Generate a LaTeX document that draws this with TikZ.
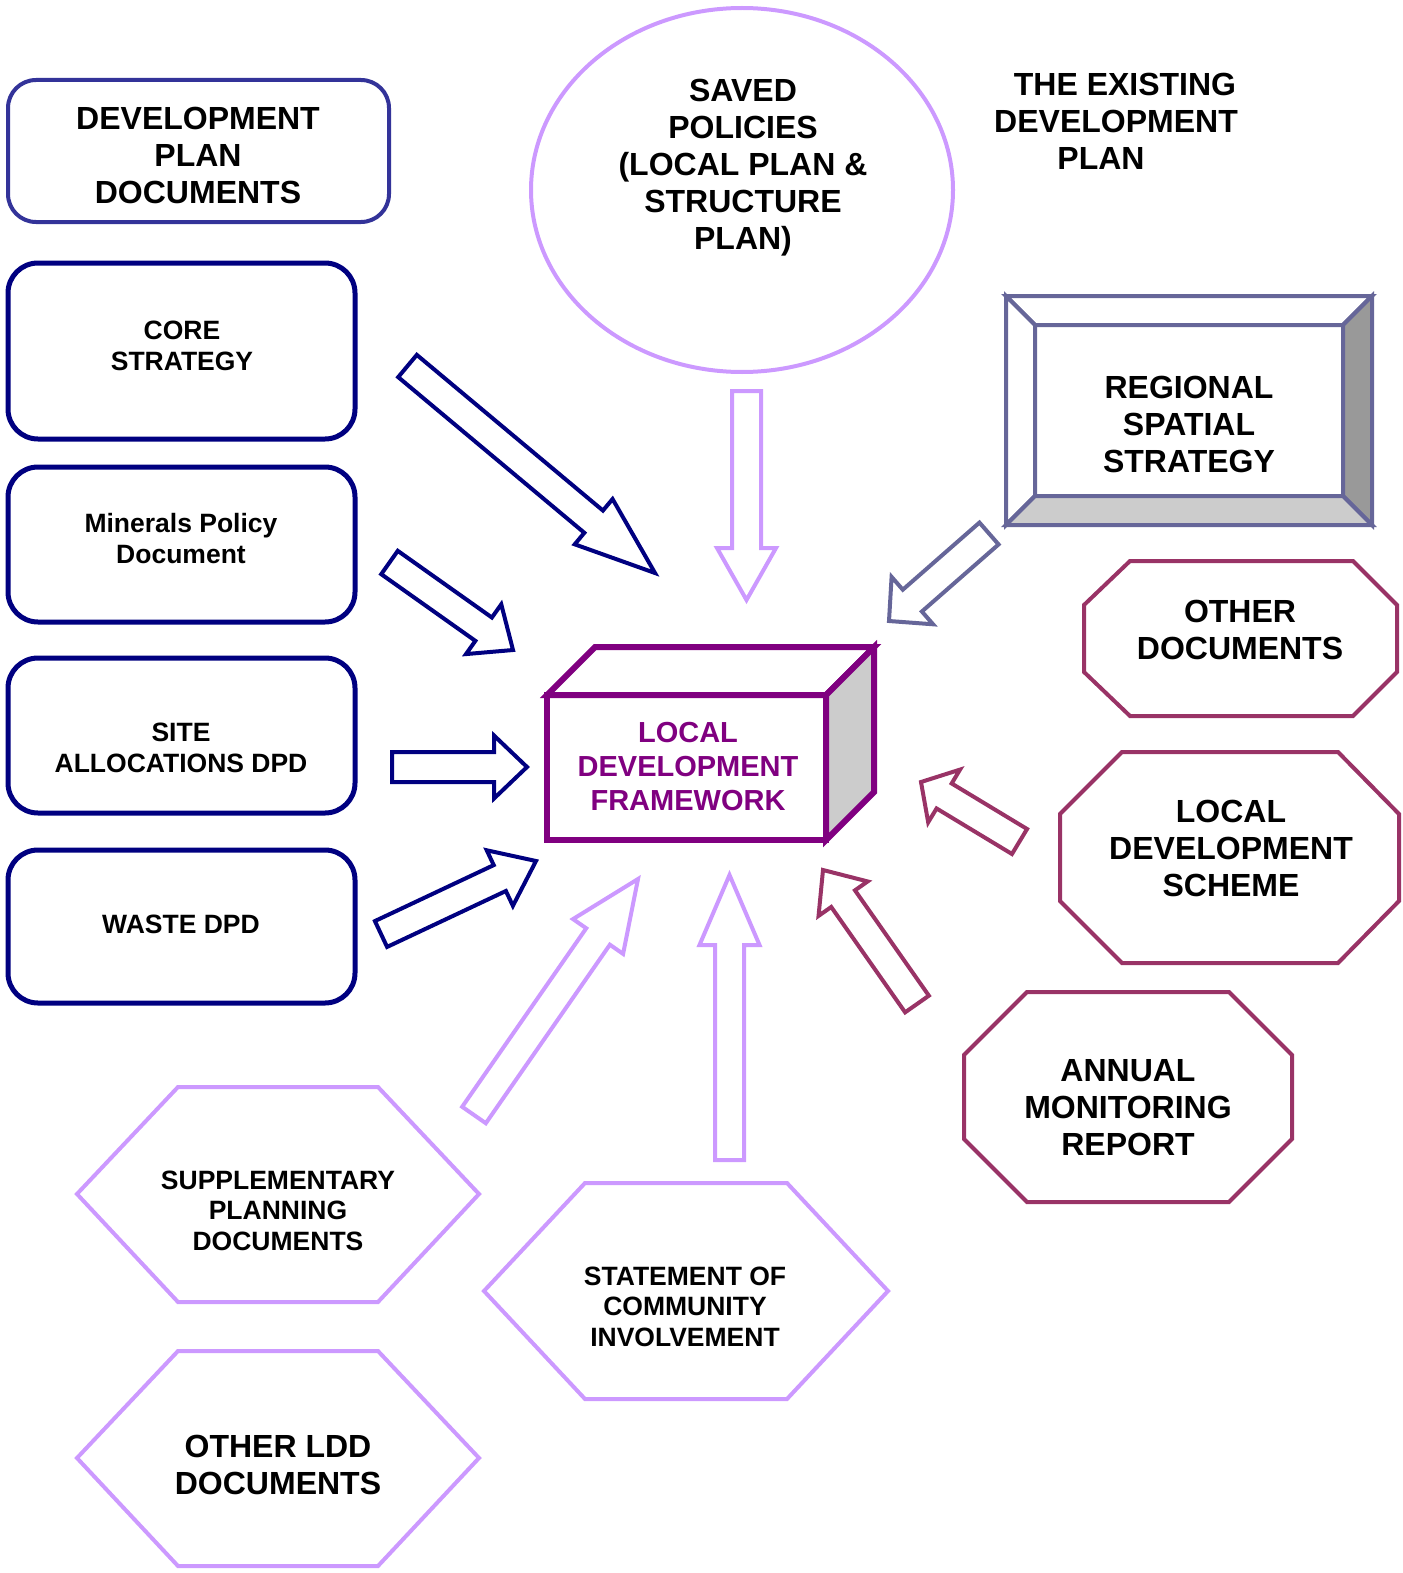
\documentclass[tikz,border=0pt]{standalone}
\usepackage{fontspec}
\setmainfont{Liberation Sans}
\usetikzlibrary{calc}

\definecolor{navyline}{HTML}{000080}
\definecolor{dpdline}{HTML}{333399}
\definecolor{lilac}{HTML}{CC99FF}
\definecolor{slate}{HTML}{666699}
\definecolor{ldfpurple}{HTML}{800080}
\definecolor{plum}{HTML}{993366}

% block arrow: style, tail, tip, half shaft, half head, head length
\newcommand{\blockarrow}[6]{%
  \coordinate (neck) at ($(#3)!#6!(#2)$);
  \draw[#1] ($(#2)!#4!90:(#3)$) -- ($(neck)!#4!90:(#3)$) -- ($(neck)!#5!90:(#3)$) -- (#3)
    -- ($(neck)!#5!-90:(#3)$) -- ($(neck)!#4!-90:(#3)$) -- ($(#2)!#4!-90:(#3)$) -- cycle;
}

\begin{document}
\begin{tikzpicture}[x=1pt,y=-1pt,
    bigtxt/.style={align=center,inner sep=0pt,font=\fontsize{32}{37}\selectfont\bfseries},
    smalltxt/.style={align=center,inner sep=0pt,font=\fontsize{26.5}{31}\selectfont\bfseries},
    hextxt/.style={align=center,inner sep=0pt,font=\fontsize{26.5}{30.5}\selectfont\bfseries},
    docbox/.style={draw=navyline,line width=5pt,rounded corners=30pt},
    blockline/.style={line width=4pt,fill=white,line join=miter}]
    \useasboundingbox (0,0) rectangle (1402,1573);

    % left column
    \draw[draw=dpdline,line width=4pt,rounded corners=28pt] (8,80) rectangle (389,222);
    \node[bigtxt] (dpd) at (198,155.5) {DEVELOPMENT\\PLAN\\DOCUMENTS};
    \draw[docbox] (8,263) rectangle (355,439);
    \node[smalltxt] (core) at (182,346) {CORE\\STRATEGY};
    \draw[docbox] (8,467) rectangle (355,622);
    \node[smalltxt] (minerals) at (181,538.5) {Minerals Policy\\Document};
    \draw[docbox] (8,658) rectangle (355,813);
    \node[smalltxt] (site) at (181,748) {SITE\\ALLOCATIONS DPD};
    \draw[docbox] (8,850) rectangle (355,1003);
    \node[smalltxt] (waste) at (181,924) {WASTE DPD};

    % saved policies
    \draw[draw=lilac,line width=4pt] (742,190) ellipse [x radius=211pt,y radius=182pt];
    \node[bigtxt] (saved) at (743,168) {SAVED\\POLICIES\\(LOCAL PLAN \&\\STRUCTURE\\PLAN)};
    \node[bigtxt] (existing) at (1116,121.5) {\hspace*{18pt}THE EXISTING\\DEVELOPMENT\\PLAN\hspace*{30pt}};

    % regional spatial strategy
    \draw[draw=slate,line width=4pt,fill=white] (1006,296) -- (1372,296) -- (1343,325) -- (1035,325) -- cycle;
    \draw[draw=slate,line width=4pt,fill=white] (1006,296) -- (1035,325) -- (1035,496) -- (1006,525) -- cycle;
    \draw[draw=slate,line width=4pt,fill=gray!80] (1372,296) -- (1372,525) -- (1343,496) -- (1343,325) -- cycle;
    \draw[draw=slate,line width=4pt,fill=gray!40] (1006,525) -- (1035,496) -- (1343,496) -- (1372,525) -- cycle;
    \node[bigtxt] (rss) at (1189,424.5) {REGIONAL\\SPATIAL\\STRATEGY};

    % local development framework
    \draw[draw=ldfpurple,line width=6pt,fill=white] (547,695) -- (595,647) -- (874,647) -- (826,695) -- cycle;
    \draw[draw=ldfpurple,line width=6pt,fill=gray!40] (826,695) -- (874,647) -- (874,792) -- (826,840) -- cycle;
    \draw[draw=ldfpurple,line width=6pt] (547,695) rectangle (826,840);
    \node[align=center,inner sep=0pt,text=ldfpurple,font=\fontsize{29}{34}\selectfont\bfseries] (ldf) at (688,766.5) {LOCAL\\DEVELOPMENT\\FRAMEWORK};

    % right column
    \draw[draw=plum,line width=4pt] (1130,561) -- (1353,561) -- (1397,605) -- (1397,672) -- (1353,716) -- (1130,716) -- (1084,672) -- (1084,605) -- cycle;
    \node[bigtxt] (otherdocs) at (1240,630) {OTHER\\DOCUMENTS};
    \draw[draw=plum,line width=4pt] (1122,752) -- (1338,752) -- (1399,814) -- (1399,901) -- (1338,963) -- (1122,963) -- (1060,901) -- (1060,814) -- cycle;
    \node[bigtxt] (lds) at (1231,848) {LOCAL\\DEVELOPMENT\\SCHEME};
    \draw[draw=plum,line width=4pt] (1027,992) -- (1229,992) -- (1292,1055) -- (1292,1139) -- (1229,1202) -- (1027,1202) -- (964,1139) -- (964,1055) -- cycle;
    \node[bigtxt] (amr) at (1128,1107.5) {ANNUAL\\MONITORING\\REPORT};

    % bottom hexagons
    \draw[draw=lilac,line width=4pt] (77,1194) -- (178,1087) -- (378,1087) -- (479,1194) -- (378,1302) -- (178,1302) -- cycle;
    \node[hextxt] (spd) at (278,1210.5) {SUPPLEMENTARY\\PLANNING\\DOCUMENTS};
    \draw[draw=lilac,line width=4pt] (77,1458) -- (178,1351) -- (378,1351) -- (479,1458) -- (378,1566) -- (178,1566) -- cycle;
    \node[bigtxt] (otherldd) at (278,1465) {OTHER LDD\\DOCUMENTS};
    \draw[draw=lilac,line width=4pt] (484,1291) -- (585,1183) -- (787,1183) -- (888,1291) -- (787,1399) -- (585,1399) -- cycle;
    \node[hextxt] (sci) at (685,1306.5) {STATEMENT OF\\COMMUNITY\\INVOLVEMENT};

    % arrow ends
    \coordinate (coreTail) at (407.5,366);     \coordinate (coreTip) at (655,573);
    \coordinate (mineralsTail) at (389.5,562.5); \coordinate (mineralsTip) at (513,650);
    \coordinate (siteTail) at (392,767);       \coordinate (siteTip) at (527,767);
    \coordinate (wasteTail) at (381,934);      \coordinate (wasteTip) at (536,861);
    \coordinate (savedTail) at (746.5,391);    \coordinate (savedTip) at (746.5,600);
    \coordinate (rssTail) at (989,533.5);      \coordinate (rssTip) at (889,621);
    \coordinate (ldsTail) at (1019.5,841.5);   \coordinate (ldsTip) at (921,782);
    \coordinate (amrTail) at (917,1004);       \coordinate (amrTip) at (823,870);
    \coordinate (spdTail) at (474,1115);       \coordinate (spdTip) at (638,879);
    \coordinate (sciTail) at (729.5,1160);     \coordinate (sciTip) at (729.5,875);

    % arrows
    \blockarrow{blockline,draw=navyline}{coreTail}{coreTip}{14.5pt}{29.5pt}{80pt}
    \blockarrow{blockline,draw=navyline}{mineralsTail}{mineralsTip}{14.3pt}{30.5pt}{36pt}
    \blockarrow{blockline,draw=navyline}{siteTail}{siteTip}{15pt}{31.5pt}{33pt}
    \blockarrow{blockline,draw=navyline}{wasteTail}{wasteTip}{14.3pt}{30.7pt}{40pt}
    \blockarrow{blockline,draw=lilac}{savedTail}{savedTip}{14.5pt}{29.5pt}{52pt}
    \blockarrow{blockline,draw=slate}{rssTail}{rssTip}{14.5pt}{31.5pt}{31pt}
    \blockarrow{blockline,draw=plum}{ldsTail}{ldsTip}{14.6pt}{30.8pt}{27pt}
    \blockarrow{blockline,draw=plum}{amrTail}{amrTip}{14.5pt}{30pt}{35pt}
    \blockarrow{blockline,draw=lilac}{spdTail}{spdTip}{14.4pt}{30.5pt}{70pt}
    \blockarrow{blockline,draw=lilac}{sciTail}{sciTip}{14.5pt}{30pt}{70pt}
\end{tikzpicture}
\end{document}
